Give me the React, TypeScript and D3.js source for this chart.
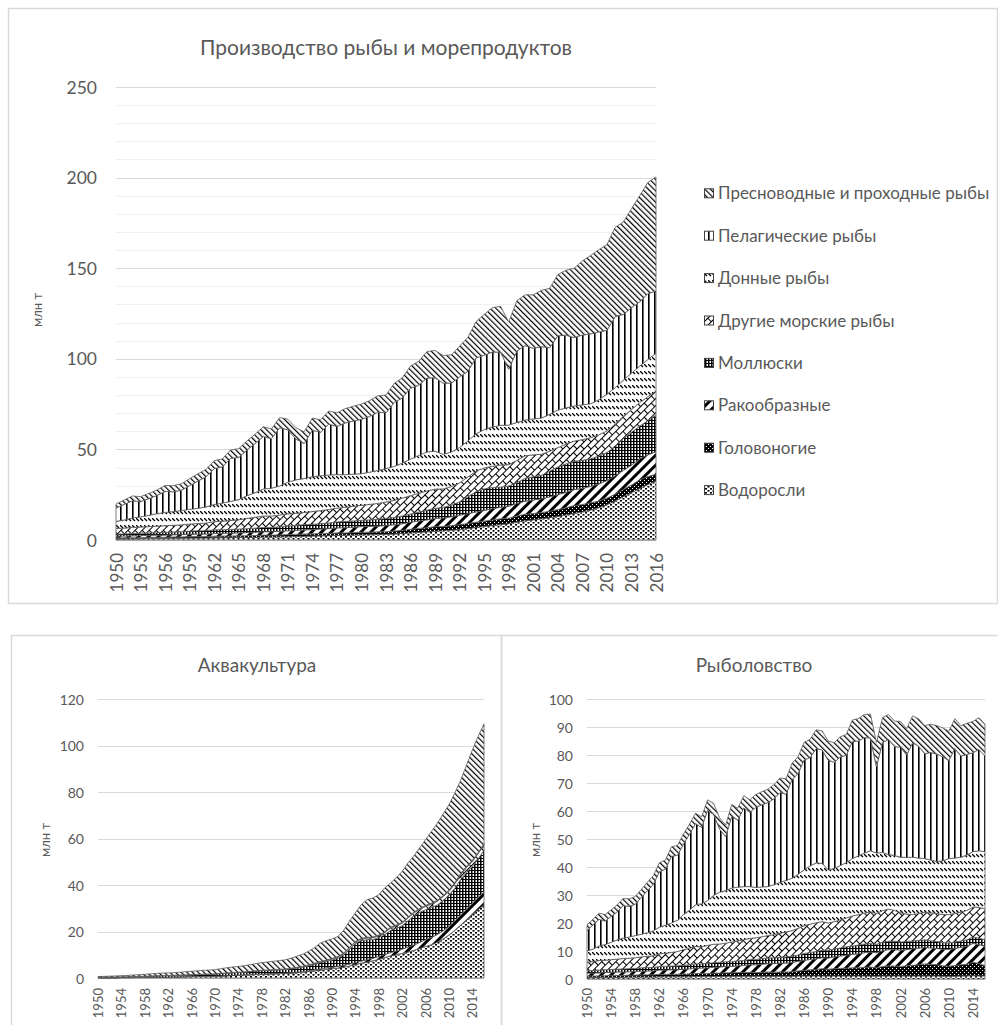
import React from 'react';
import * as d3 from 'd3';

const YEARS: number[] = d3.range(1950, 2017);
const TOP_TICKS = [1950, 1953, 1956, 1959, 1962, 1965, 1968, 1971, 1974, 1977, 1980, 1983, 1986, 1989, 1992, 1995, 1998, 2001, 2004, 2007, 2010, 2013, 2016];
const BOTTOM_TICKS = [1950, 1954, 1958, 1962, 1966, 1970, 1974, 1978, 1982, 1986, 1990, 1994, 1998, 2002, 2006, 2010, 2014];

// series, bottom of stack first
const SERIES = ['Водоросли', 'Головоногие', 'Ракообразные', 'Моллюски', 'Другие морские рыбы', 'Донные рыбы', 'Пелагические рыбы', 'Пресноводные и проходные рыбы'];

// ---- Рыболовство (capture), млн т ----
const capSeaweed = [0.5,0.5,0.5,0.6,0.6,0.6,0.6,0.7,0.7,0.7, 0.7,0.7,0.8,0.8,0.8,0.8,0.8,0.8,0.9,0.9, 0.9,0.9,0.9,0.9,1.0,1.0,1.0,1.0,1.0,1.0, 1.0,1.0,1.0,1.0,1.0,1.1,1.1,1.1,1.1,1.1, 1.1,1.1,1.1,1.1,1.1,1.1,1.1,1.1,1.0,1.1, 1.1,1.1,1.1,1.1,1.1,1.1,1.1,1.1,1.1,1.0, 1.0,1.0,1.1,1.1,1.2,1.1,1.1];
const capCeph = [0.6,0.6,0.6,0.6,0.7,0.7,0.7,0.7,0.7,0.8, 0.8,0.8,0.9,0.9,0.9,0.9,1.0,1.0,1.1,1.1, 1.1,1.2,1.2,1.3,1.2,1.3,1.3,1.4,1.3,1.4, 1.5,1.4,1.5,1.5,1.6,1.8,2.0,2.2,2.3,2.6, 2.4,2.6,2.7,2.8,2.9,2.9,3.1,3.2,3.0,3.4, 3.6,3.5,3.4,3.6,3.8,4.0,4.3,4.2,4.0,3.7, 3.6,3.8,4.0,4.2,4.8,4.4,3.7];
const capCrust = [1.0,1.0,1.1,1.1,1.1,1.2,1.2,1.2,1.3,1.3, 1.4,1.4,1.5,1.5,1.6,1.6,1.7,1.8,1.9,1.9, 2.0,2.1,2.2,2.3,2.3,2.4,2.5,2.7,2.8,2.9, 3.0,3.1,3.1,3.2,3.3,3.4,3.6,3.7,3.8,3.9, 4.0,4.2,4.4,4.6,4.8,5.0,5.2,5.3,5.4,5.6, 5.8,5.9,5.8,5.8,5.9,5.9,5.9,5.8,5.8,5.9, 6.0,6.1,6.2,6.4,6.7,6.8,6.9];
const capMoll = [0.9,0.9,1.0,1.0,1.0,1.0,1.1,1.1,1.1,1.2, 1.2,1.2,1.3,1.3,1.3,1.4,1.4,1.5,1.5,1.5, 1.6,1.6,1.7,1.7,1.7,1.8,1.8,1.9,1.9,2.0, 2.0,2.1,2.1,2.2,2.2,2.3,2.4,2.5,2.6,2.7, 2.8,2.8,2.9,3.0,3.0,3.1,3.1,3.1,3.0,3.0, 3.0,3.0,2.9,2.9,2.8,2.8,2.7,2.6,2.5,2.4, 2.3,2.3,2.3,2.3,2.3,2.3,2.3];
const capOther = [3.0,3.2,3.4,3.4,3.5,3.6,3.7,3.7,3.8,3.9, 4.0,4.2,4.5,4.7,4.9,5.1,5.6,5.9,6.2,6.1, 6.4,6.6,6.5,6.6,7.0,7.1,7.4,7.5,7.7,7.8, 8.0,8.3,8.6,8.9,9.2,9.5,9.9,10.1,10.3,10.2, 9.7,9.8,10.0,10.3,10.7,10.9,11.0,11.3,11.0,11.3, 11.5,11.0,10.5,9.8,9.4,9.6,9.8,9.9,10.0,10.0, 10.1,10.2,10.3,10.5,10.7,11.0,11.0];
const capDem = [4.0,4.5,5.2,5.6,6.2,6.9,7.3,7.6,7.9,8.1, 8.4,8.9,9.5,10.0,10.5,11.2,12.5,13.6,14.9,15.4, 16.0,17.5,18.5,18.8,19.3,19.2,19.0,18.5,18.0,17.8, 17.5,17.8,18.2,18.4,18.7,19.3,20.0,20.8,21.4,20.8, 19.0,19.0,19.4,19.8,20.5,21.0,21.5,21.8,21.6,20.8, 19.5,19.6,19.8,20.2,20.5,19.8,19.2,18.9,18.6,19.2, 20.0,19.8,19.6,19.8,19.8,20.2,20.5];
const capPel = [7.3,8.6,9.5,8.4,9.2,10.0,11.6,10.9,11.2,13.1, 15.0,16.6,19.8,20.0,23.8,23.2,25.2,27.1,29.0,27.3, 32.2,28.9,22.5,19.3,25.6,23.9,28.1,26.5,28.6,29.3, 30.0,30.7,32.1,30.8,35.2,36.0,39.2,38.7,40.8,40.5, 39.1,37.9,38.8,38.3,41.8,41.0,41.2,40.3,30.8,39.3, 41.0,38.9,39.3,36.6,40.9,39.9,37.5,38.4,38.3,37.2, 35.0,39.1,36.1,35.9,35.3,36.2,34.1];
const capFresh = [2.0,2.1,2.2,2.3,2.4,2.5,2.6,2.7,2.8,2.9, 3.0,3.1,3.2,3.3,3.4,3.5,3.6,3.6,3.7,3.7, 3.8,3.9,4.0,4.1,4.2,4.3,4.4,4.5,4.6,4.7, 4.8,5.0,5.2,5.5,5.8,6.0,6.3,6.5,6.7,6.8, 6.9,7.0,7.2,7.4,7.7,8.0,8.3,8.5,8.7,8.9, 9.0,9.1,9.2,9.4,9.6,9.8,10.0,10.1,10.2,10.3, 10.5,10.7,10.9,11.1,11.2,11.3,11.4];

// ---- Аквакультура, млн т ----
const aqSeaweed = [0.1,0.1,0.1,0.1,0.2,0.2,0.2,0.3,0.3,0.4, 0.4,0.4,0.4,0.5,0.5,0.6,0.6,0.7,0.7,0.7, 0.8,0.9,1.0,1.1,1.2,1.3,1.4,1.5,1.6,1.7, 1.8,1.9,2.0,2.1,2.3,2.5,2.8,3.1,3.4,3.7, 4.0,4.3,4.7,5.2,5.8,6.4,6.9,7.4,8.0,8.8, 9.5,10.0,10.6,11.2,11.9,12.7,13.6,14.3,15.4,16.8, 18.5,20.5,22.8,25.0,27.2,29.5,31.5];
const aqCeph = [0,0,0,0,0,0,0,0,0,0, 0,0,0,0,0,0,0,0,0,0, 0,0,0,0,0,0,0,0,0,0, 0,0,0,0,0,0,0,0,0,0, 0,0,0,0,0,0,0,0,0,0, 0,0,0,0,0,0,0,0,0,0, 0,0,0,0,0,0,0];
const aqCrust = [0,0,0,0,0,0,0,0,0,0, 0,0,0,0,0,0,0,0,0,0, 0,0,0,0,0.1,0.1,0.1,0.1,0.1,0.1, 0.1,0.1,0.1,0.2,0.2,0.2,0.3,0.4,0.5,0.6, 0.6,0.7,0.8,0.8,0.9,0.9,1.0,1.1,1.2,1.3, 1.4,1.6,1.8,2.1,2.3,2.6,2.9,3.1,3.3,3.5, 3.7,4.0,4.3,4.6,4.9,5.2,5.5];
const aqMoll = [0.2,0.25,0.3,0.35,0.3,0.35,0.4,0.4,0.5,0.5, 0.6,0.65,0.7,0.65,0.75,0.75,0.75,0.75,0.85,0.9, 0.9,1.0,1.1,1.15,1.1,1.15,1.25,1.4,1.5,1.45, 1.5,1.55,1.6,1.7,1.8,2.0,2.1,2.4,2.7,2.9, 3.1,3.5,4.5,6.4,8.2,8.8,8.6,8.0,8.2,8.5, 9.6,9.8,10.1,11.3,12.5,12.9,12.9,12.9,12.7,13.0, 13.2,14.1,15.3,15.8,15.8,16.5,18.0];
const aqOther = [0,0,0,0,0,0,0,0,0,0, 0,0,0,0,0,0,0.1,0.1,0.1,0.1, 0.1,0.1,0.1,0.1,0.1,0.1,0.1,0.1,0.1,0.2, 0.2,0.2,0.2,0.2,0.3,0.3,0.3,0.3,0.4,0.4, 0.5,0.5,0.5,0.6,0.6,0.7,0.7,0.8,0.8,0.9, 1.0,1.1,1.1,1.2,1.3,1.3,1.4,1.5,1.6,1.7, 1.8,1.9,2.0,2.1,2.2,2.3,2.3];
const aqDem = [0,0,0,0,0,0,0,0,0,0, 0,0,0,0,0,0,0,0,0,0, 0,0,0,0,0,0,0,0,0,0, 0,0,0,0,0,0.1,0.1,0.1,0.1,0.1, 0.1,0.1,0.1,0.1,0.1,0.1,0.2,0.2,0.2,0.2, 0.2,0.2,0.2,0.2,0.2,0.2,0.2,0.2,0.2,0.2, 0.3,0.3,0.3,0.3,0.3,0.3,0.3];
const aqPel = [0,0,0,0,0,0,0,0,0,0, 0,0,0,0,0,0,0,0,0,0, 0,0,0,0,0,0,0,0,0,0, 0,0,0,0,0,0,0,0,0,0, 0.1,0.1,0.1,0.1,0.1,0.1,0.1,0.1,0.1,0.1, 0.1,0.1,0.1,0.1,0.1,0.2,0.2,0.2,0.2,0.2, 0.2,0.2,0.2,0.2,0.2,0.2,0.2];
const aqFresh = [0.3,0.35,0.4,0.45,0.5,0.55,0.7,0.7,0.8,0.9, 1.0,1.05,1.1,1.15,1.25,1.35,1.45,1.55,1.65,1.7, 1.8,2.0,2.2,2.35,2.5,2.65,2.85,3.1,3.3,3.45, 3.6,3.75,3.9,4.3,4.8,5.1,5.9,6.7,7.9,8.3, 8.4,8.6,9.8,11.3,12.3,14.5,16.2,16.8,17.3,18.9, 19.0,20.4,21.9,23.4,24.2,26.1,28.3,30.8,33.1,35.1, 36.8,38.5,40.1,43.5,47.4,50.0,51.5];

const CAPTURE = [capSeaweed, capCeph, capCrust, capMoll, capOther, capDem, capPel, capFresh];
const AQUA = [aqSeaweed, aqCeph, aqCrust, aqMoll, aqOther, aqDem, aqPel, aqFresh];
// total production = aquaculture + capture for each group
const TOTAL = SERIES.map((_, s) => YEARS.map((_, i) => AQUA[s][i] + CAPTURE[s][i]));

const FONT = 'Lato, "Open Sans", sans-serif';
const TXT = '#595959';

function Patterns() {
  return (
    <defs>
      <pattern id="p0" width="5" height="4" patternUnits="userSpaceOnUse">
        <rect width="5" height="4" fill="#fff" />
        <rect x="0" y="0" width="2" height="1.6" fill="#000" />
        <rect x="2.5" y="2" width="2" height="1.6" fill="#000" />
      </pattern>
      <pattern id="p1" width="4" height="4" patternUnits="userSpaceOnUse">
        <rect width="4" height="4" fill="#000" />
        <rect x="0" y="0" width="1" height="1" fill="#fff" />
        <rect x="2" y="2" width="1" height="1" fill="#fff" />
      </pattern>
      <pattern id="p2" width="7" height="7" patternUnits="userSpaceOnUse" patternTransform="rotate(45)">
        <rect width="7" height="7" fill="#fff" />
        <rect width="3" height="7" fill="#000" />
      </pattern>
      <pattern id="p3" width="3" height="3" patternUnits="userSpaceOnUse">
        <rect width="3" height="3" fill="#fff" />
        <rect width="1.5" height="3" fill="#000" />
        <rect width="3" height="1" fill="#000" />
      </pattern>
      <pattern id="p4" width="10" height="10" patternUnits="userSpaceOnUse" patternTransform="rotate(-45)">
        <rect width="10" height="10" fill="#fff" />
        <path d="M0,0.5H10M0,5.5H10M0.5,0V5.5M5.5,5.5V10" stroke="#000" strokeWidth="1" fill="none" />
      </pattern>
      <pattern id="p5" width="4" height="7" patternUnits="userSpaceOnUse">
        <rect width="4" height="7" fill="#fff" />
        <path d="M0,0L3,3" stroke="#000" strokeWidth="1.3" fill="none" />
      </pattern>
      <pattern id="p6" width="6" height="6" patternUnits="userSpaceOnUse">
        <rect width="6" height="6" fill="#fff" />
        <rect width="1.6" height="6" fill="#000" />
      </pattern>
      <pattern id="p7" width="4" height="4" patternUnits="userSpaceOnUse" patternTransform="rotate(-45)">
        <rect width="4" height="4" fill="#fff" />
        <rect width="1.2" height="4" fill="#000" />
      </pattern>
    </defs>
  );
}

type ChartProps = {
  layers: number[][];
  x0: number; x1: number; yBot: number; yTopPx: number; yMax: number;
  major: number; minor?: number;
  ticks: number[];
  tickFont: number; xFont: number; xLabelTop: number; yLabelRight: number;
  title: string; titleX: number; titleY: number; titleFont: number;
  unitX: number; unitY: number; unitFont: number;
};

function StackedArea(p: ChartProps) {
  const x = d3.scalePoint<number>().domain(YEARS).range([p.x0, p.x1]);
  const y = d3.scaleLinear().domain([0, p.yMax]).range([p.yBot, p.yTopPx]);
  const rows = YEARS.map((yr, i) => {
    const r: any = { year: yr };
    SERIES.forEach((_, s) => { r['s' + s] = p.layers[s][i]; });
    return r;
  });
  const stack = d3.stack<any>().keys(SERIES.map((_, s) => 's' + s))(rows);
  const area = d3.area<any>()
    .x((d) => x(d.data.year) as number)
    .y0((d) => y(d[0]))
    .y1((d) => y(d[1]));
  const minorVals = p.minor ? d3.range(0, p.yMax + 0.001, p.minor).filter((v) => Math.abs(v / p.major - Math.round(v / p.major)) > 1e-6) : [];
  const majorVals = d3.range(0, p.yMax + 0.001, p.major);
  return (
    <g fontFamily={FONT}>
      <text x={p.titleX} y={p.titleY} textAnchor="middle" fontSize={p.titleFont} fill={TXT}>{p.title}</text>
      {minorVals.map((v) => (
        <line key={'mi' + v} x1={p.x0} x2={p.x1} y1={Math.round(y(v)) + 0.5} y2={Math.round(y(v)) + 0.5} stroke="#f0f0f0" strokeWidth={1} />
      ))}
      {majorVals.map((v) => (
        <line key={'ma' + v} x1={p.x0} x2={p.x1} y1={Math.round(y(v)) + 0.5} y2={Math.round(y(v)) + 0.5} stroke="#d9d9d9" strokeWidth={1} />
      ))}
      {majorVals.map((v) => (
        <text key={'yl' + v} x={p.yLabelRight} y={y(v)} textAnchor="end" dominantBaseline="central" fontSize={p.tickFont} fill={TXT}>{v}</text>
      ))}
      <text transform={`translate(${p.unitX},${p.unitY}) rotate(-90)`} textAnchor="middle" dominantBaseline="central" fontSize={p.unitFont} fill={TXT}>млн т</text>
      {stack.map((layer, s) => (
        <path key={'a' + s} d={area(layer) as string} fill={`url(#p${s})`} stroke="#5a5a5a" strokeWidth={0.8} strokeLinejoin="round" />
      ))}
      {p.ticks.map((t) => (
        <text key={'xt' + t} transform={`translate(${x(t)},${p.xLabelTop}) rotate(-90)`} textAnchor="end" dominantBaseline="central" fontSize={p.xFont} fill={TXT}>{t}</text>
      ))}
    </g>
  );
}

export default function App() {
  const legendOrder = SERIES.map((n, i) => ({ n, i })).reverse();
  return (
    <svg width={998} height={1025} style={{ position: 'absolute', left: 0, top: 0, background: '#fff' }}>
      <Patterns />
      <rect x={0} y={0} width={998} height={1025} fill="#fff" />
      <rect x={8.5} y={8.5} width={989} height={595} fill="none" stroke="#d9d9d9" strokeWidth={1.5} />
      <rect x={11.5} y={635.5} width={490} height={400} fill="none" stroke="#d9d9d9" strokeWidth={1.5} />
      <rect x={501.5} y={635.5} width={510} height={400} fill="none" stroke="#d9d9d9" strokeWidth={1.5} />

      <StackedArea layers={TOTAL} x0={116} x1={656} yBot={540} yTopPx={87} yMax={250} major={50} minor={10}
        ticks={TOP_TICKS} tickFont={17.5} xFont={17} xLabelTop={553} yLabelRight={97}
        title="Производство рыбы и морепродуктов" titleX={386} titleY={55} titleFont={21}
        unitX={37} unitY={310} unitFont={13} />

      <StackedArea layers={AQUA} x0={98} x1={484} yBot={978} yTopPx={699} yMax={120} major={20}
        ticks={BOTTOM_TICKS} tickFont={14} xFont={13} xLabelTop={988} yLabelRight={84}
        title="Аквакультура" titleX={257} titleY={672} titleFont={19}
        unitX={45} unitY={840} unitFont={13} />

      <StackedArea layers={CAPTURE} x0={587} x1={985} yBot={979} yTopPx={699} yMax={100} major={10}
        ticks={BOTTOM_TICKS} tickFont={14} xFont={13} xLabelTop={988} yLabelRight={573}
        title="Рыболовство" titleX={754} titleY={672} titleFont={19}
        unitX={535} unitY={840} unitFont={13} />

      <g fontFamily={FONT}>
        {legendOrder.map((d, k) => {
          const base = 199.3 + k * 42.4;
          return (
            <g key={d.n}>
              <rect x={704.5} y={base - 10.5} width={9} height={9} fill={`url(#p${d.i})`} stroke="#404040" strokeWidth={1} />
              <text x={718} y={base} fontSize={17} fill={TXT}>{d.n}</text>
            </g>
          );
        })}
      </g>
    </svg>
  );
}
